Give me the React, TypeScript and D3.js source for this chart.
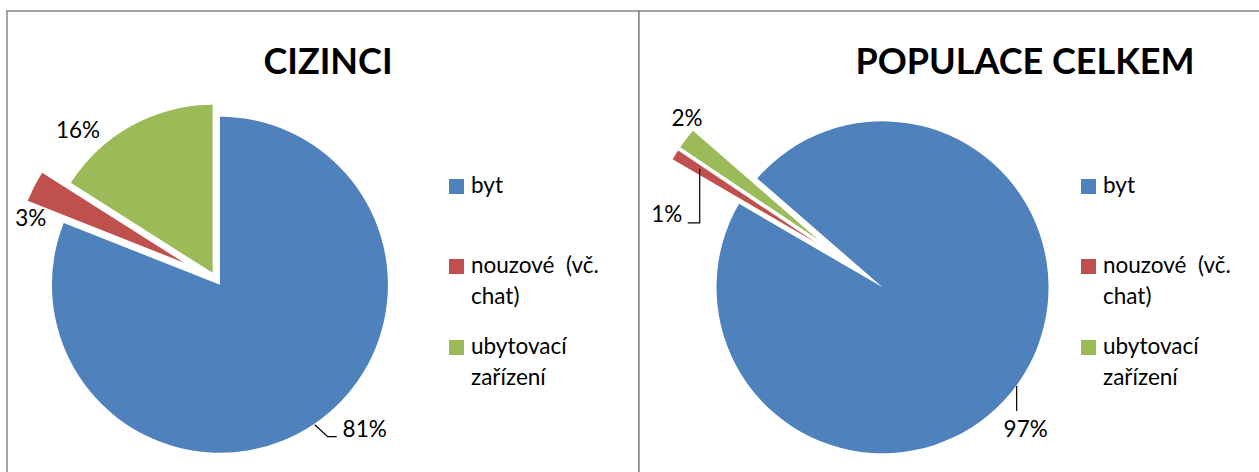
import React from "react";
import * as d3 from "d3";

// categories + colours
const categories = ["byt", "nouzové  (vč. chat)", "ubytovací zařízení"];
const legendLines = [["byt"], ["nouzové  (vč.", "chat)"], ["ubytovací", "zařízení"]];
const colors = ["#4F81BD", "#C0504D", "#9BBB59"];

// shares in percent
const ciziValues = [81, 3, 16];
const popValues = [97, 1, 2];

const titles = ["CIZINCI", "POPULACE CELKEM"];

const FONT = "Lato, 'Open Sans', sans-serif";

type LabelPos = { angle: number; dist: number; leader?: [number, number][] };

type ChartCfg = {
  title: string;
  values: number[];
  x0: number; // panel left
  titleX: number;
  cx: number;
  cy: number;
  r: number;
  startDeg: number;
  explode: number[];
  labels: LabelPos[];
};

const charts: ChartCfg[] = [
  {
    title: titles[0],
    values: ciziValues,
    x0: 7,
    titleX: 328,
    cx: 216,
    cy: 279,
    r: 168,
    startDeg: 0,
    explode: [7, 36, 7],
    labels: [
      { angle: 135.2, dist: 211, leader: [[-50, -4], [-37, 8], [-28, 8]] },
      { angle: 288.3, dist: 195 },
      { angle: 317.2, dist: 203 },
    ],
  },
  {
    title: titles[1],
    values: popValues,
    x0: 639,
    titleX: 1025,
    cx: 850,
    cy: 264,
    r: 166,
    startDeg: 311,
    explode: [40, 40, 40],
    labels: [
      { angle: 133.2, dist: 241, leader: [[-9, -43], [-9, -18]] },
      { angle: 285.3, dist: 190, leader: [[33, -45], [33, 9], [21, 9]] },
      { angle: 311.9, dist: 219 },
    ],
  },
];

const rad = (deg: number) => (deg * Math.PI) / 180;
const dir = (a: number) => [Math.sin(a), -Math.cos(a)];

function Pie({ c }: { c: ChartCfg }) {
  const start = rad(c.startDeg);
  const pieGen = d3
    .pie<number>()
    .sort(null)
    .startAngle(start)
    .endAngle(start + 2 * Math.PI);
  const arcs = pieGen(c.values);
  const arcGen = d3.arc<d3.PieArcDatum<number>>().innerRadius(0).outerRadius(c.r);
  const total = d3.sum(c.values);

  return (
    <g>
      <rect x={c.x0} y={11} width={632} height={520} fill="#fff" stroke="#868686" strokeWidth={1.5} />
      <text
        x={c.titleX}
        y={74}
        textAnchor="middle"
        fontFamily={FONT}
        fontWeight="bold"
        fontSize={36}
        fill="#000"
      >
        {c.title}
      </text>
      {arcs.map((a, i) => {
        const [ux, uy] = dir((a.startAngle + a.endAngle) / 2);
        const tx = c.cx + ux * c.explode[i];
        const ty = c.cy + uy * c.explode[i];
        return <path key={i} d={arcGen(a) || ""} transform={`translate(${tx},${ty})`} fill={colors[i]} />;
      })}
      {arcs.map((a, i) => {
        const lp = c.labels[i];
        const [ux, uy] = dir(rad(lp.angle));
        const lx = c.cx + ux * lp.dist;
        const ly = c.cy + uy * lp.dist;
        const pct = Math.round((a.value / total) * 100) + "%";
        return (
          <g key={i}>
            {lp.leader && (
              <polyline
                points={lp.leader.map(([dx, dy]) => `${lx + dx},${ly + dy}`).join(" ")}
                fill="none"
                stroke="#000"
                strokeWidth={1.2}
              />
            )}
            <text
              x={lx}
              y={ly}
              dy="0.35em"
              textAnchor="middle"
              fontFamily={FONT}
              fontSize={22.5}
              fill="#000"
            >
              {pct}
            </text>
          </g>
        );
      })}
      {categories.map((cat, i) => {
        const sqY = [179, 259, 340][i];
        return (
          <g key={cat}>
            <rect x={c.x0 + 442} y={sqY} width={15} height={15} fill={colors[i]} />
            {legendLines[i].map((ln, j) => (
              <text
                key={j}
                x={c.x0 + 464}
                y={sqY + 14 + j * 31}
                fontFamily={FONT}
                fontSize={22.5}
                fill="#000"
                style={{ whiteSpace: "pre" }}
              >
                {ln}
              </text>
            ))}
          </g>
        );
      })}
    </g>
  );
}

export default function App() {
  return (
    <svg
      width={1259}
      height={472}
      style={{ position: "absolute", left: 0, top: 0, background: "#fff" }}
    >
      {charts.map((c) => (
        <Pie key={c.title} c={c} />
      ))}
    </svg>
  );
}
